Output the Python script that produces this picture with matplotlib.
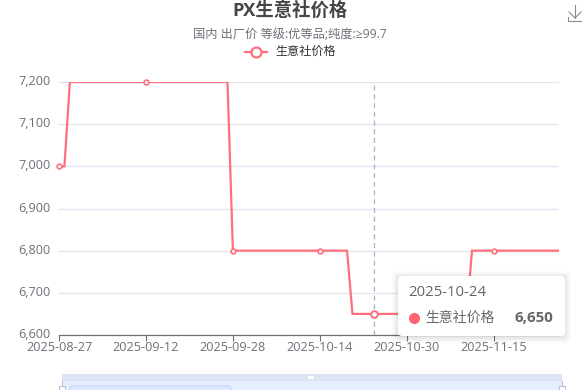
# -*- coding: utf-8 -*-
import matplotlib
matplotlib.use("Agg")
import matplotlib.pyplot as plt
import matplotlib.dates as mdates
import pandas as pd
from matplotlib.patches import FancyBboxPatch, Rectangle
from matplotlib.lines import Line2D
from matplotlib.transforms import Affine2D, ScaledTranslation

plt.rcParams['font.family'] = ['Open Sans', 'Noto Sans CJK SC', 'DejaVu Sans']

# precio: solo los puntos donde cambia la linea
fechas = ['2025-08-27', '2025-08-28', '2025-08-29', '2025-09-27', '2025-09-28',
          '2025-10-19', '2025-10-20', '2025-11-10', '2025-11-11', '2025-11-27']
precios = [7000, 7000, 7200, 7200, 6800, 6800, 6650, 6650, 6800, 6800]

# marcadores visibles
fechas_marca = ['2025-08-27', '2025-09-12', '2025-09-28', '2025-10-14', '2025-11-15']
precios_marca = [7000, 7200, 6800, 6800, 6800]

fechas_eje = ['2025-08-27', '2025-09-12', '2025-09-28', '2025-10-14', '2025-10-30', '2025-11-15']
valores_eje = [6600, 6700, 6800, 6900, 7000, 7100, 7200]

titulo = 'PX生意社价格'
subtitulo = '国内 出厂价 等级:优等品;纯度:≥99.7'
serie = '生意社价格'
fecha_tooltip = '2025-10-24'
precio_tooltip = 6650
valor_tooltip = '6,650'

ROJO = '#ff6f7c'
GRIS = '#6e7079'
W, H = 582, 390


def fx(px):
    return px / W


def fy(py):
    return 1 - py / H


fig = plt.figure(figsize=(W / 100, H / 100), dpi=100)
# transformacion en pixeles de la imagen (y hacia abajo)
pix = Affine2D().scale(1, -1).translate(0, H)

ax = fig.add_axes([fx(59), fy(335), fx(559 - 59), (335 - 82) / H])

x = mdates.date2num(pd.to_datetime(fechas))
fecha_cursor = mdates.date2num(pd.Timestamp(fecha_tooltip))
ax.plot(x, precios, color=ROJO, lw=1.6, zorder=3, solid_joinstyle='miter')
ax.plot(mdates.date2num(pd.to_datetime(fechas_marca)), precios_marca, ls='none', marker='o',
        ms=3.4, mfc='white', mec=ROJO, mew=1.2, zorder=4, clip_on=False)
ax.plot([fecha_cursor], [precio_tooltip], ls='none', marker='o',
        ms=4.8, mfc='white', mec=ROJO, mew=1.4, zorder=4, clip_on=False)

ax.set_xlim(mdates.date2num(pd.Timestamp('2025-08-27')), mdates.date2num(pd.Timestamp('2025-11-27')))
ax.set_ylim(6600, 7200)
ax.set_yticks(valores_eje)
ax.set_yticklabels([f'{v:,}' for v in valores_eje])
ax.set_xticks(mdates.date2num(pd.to_datetime(fechas_eje)))
ax.set_xticklabels(fechas_eje)
ax.tick_params(axis='y', length=0, labelsize=9.1, labelcolor=GRIS, pad=6)
ax.tick_params(axis='x', length=4, width=0.8, color=GRIS, labelsize=9.1, labelcolor=GRIS, pad=0.6)
# etiquetas de y un poco mas arriba que la marca, como en el original
subir = ScaledTranslation(0, 2 / 100, fig.dpi_scale_trans)
for etiqueta in ax.get_yticklabels():
    etiqueta.set_transform(etiqueta.get_transform() + subir)
ax.grid(axis='y', color='#e0e6f1', lw=1)
ax.set_axisbelow(True)
for s in ['top', 'right', 'left']:
    ax.spines[s].set_visible(False)
ax.spines['bottom'].set_color(GRIS)
ax.spines['bottom'].set_linewidth(0.9)

# linea vertical del cursor
ax.axvline(fecha_cursor, color='#b0b0b8', lw=0.9, ls=(0, (4, 3)), zorder=2)

# titulos y leyenda
fig.text(fx(290), fy(11), titulo, ha='center', va='center', fontsize=13.2, fontweight='bold', color='#464646')
fig.text(fx(290), fy(35), subtitulo, ha='center', va='center', fontsize=8.8, color=GRIS)
fig.add_artist(Line2D([245, 267], [52, 52], color=ROJO, lw=1.6, transform=pix))
fig.add_artist(Line2D([256], [52], marker='o', ms=7.2, mfc='white', mec=ROJO, mew=1.6, ls='none', transform=pix))
fig.text(fx(275), fy(51.5), serie, ha='left', va='center', fontsize=8.7, color='#333333')

# icono de descarga
gris_icono = '#8a8a8a'
for xs, ys in [([575, 575], [5, 18]), ([569, 575, 581], [12, 18, 12]), ([568, 568, 581], [17, 21, 21])]:
    fig.add_artist(Line2D(xs, ys, color=gris_icono, lw=0.8, transform=pix))

# barra inferior (dataZoom)
fig.add_artist(Rectangle((62, 374), 500, 7, color='#dde3f2', lw=0, transform=pix))
fig.add_artist(Rectangle((62, 381), 500, 9, color='#e6edfd', lw=0, transform=pix))
fig.add_artist(Rectangle((308, 376), 6, 3, color='white', lw=0, transform=pix))
fig.add_artist(FancyBboxPatch((70, 386), 161, 10, boxstyle='round,pad=0,rounding_size=3',
                              fc='#dfe9fe', ec='#c3d5fa', lw=0.8, transform=pix))
for px in [62, 562]:
    fig.add_artist(Line2D([px, px], [381, 386], color='#b9c1d6', lw=0.8, transform=pix))
    fig.add_artist(Rectangle((px - 3, 386), 6, 6, fc='white', ec='#b9c1d6', lw=0.8, transform=pix))

# tooltip con sombra
for grow, alpha in [(6, 0.02), (4, 0.03), (2, 0.04)]:
    fig.add_artist(FancyBboxPatch((398 - grow, 276 - grow + 1), 167 + 2 * grow, 60 + 2 * grow,
                                  boxstyle='round,pad=0,rounding_size=5',
                                  fc='black', ec='none', alpha=alpha, zorder=9, transform=pix))
fig.add_artist(FancyBboxPatch((398, 276), 167, 60, boxstyle='round,pad=0,rounding_size=4',
                              fc='white', ec='none', zorder=10, transform=pix))
fig.text(fx(408), fy(293), fecha_tooltip, ha='left', va='center', fontsize=10.7, color='#666666', zorder=11)
fig.add_artist(Line2D([414], [318], marker='o', ms=7, color='#ff6472', ls='none', zorder=11, transform=pix))
fig.text(fx(425), fy(318), serie, ha='left', va='center', fontsize=10, color='#666666', zorder=11)
fig.text(fx(553), fy(318), valor_tooltip, ha='right', va='center', fontsize=10.8, fontweight='bold',
         color='#666666', zorder=11)

fig.savefig('out.png', dpi=100)
